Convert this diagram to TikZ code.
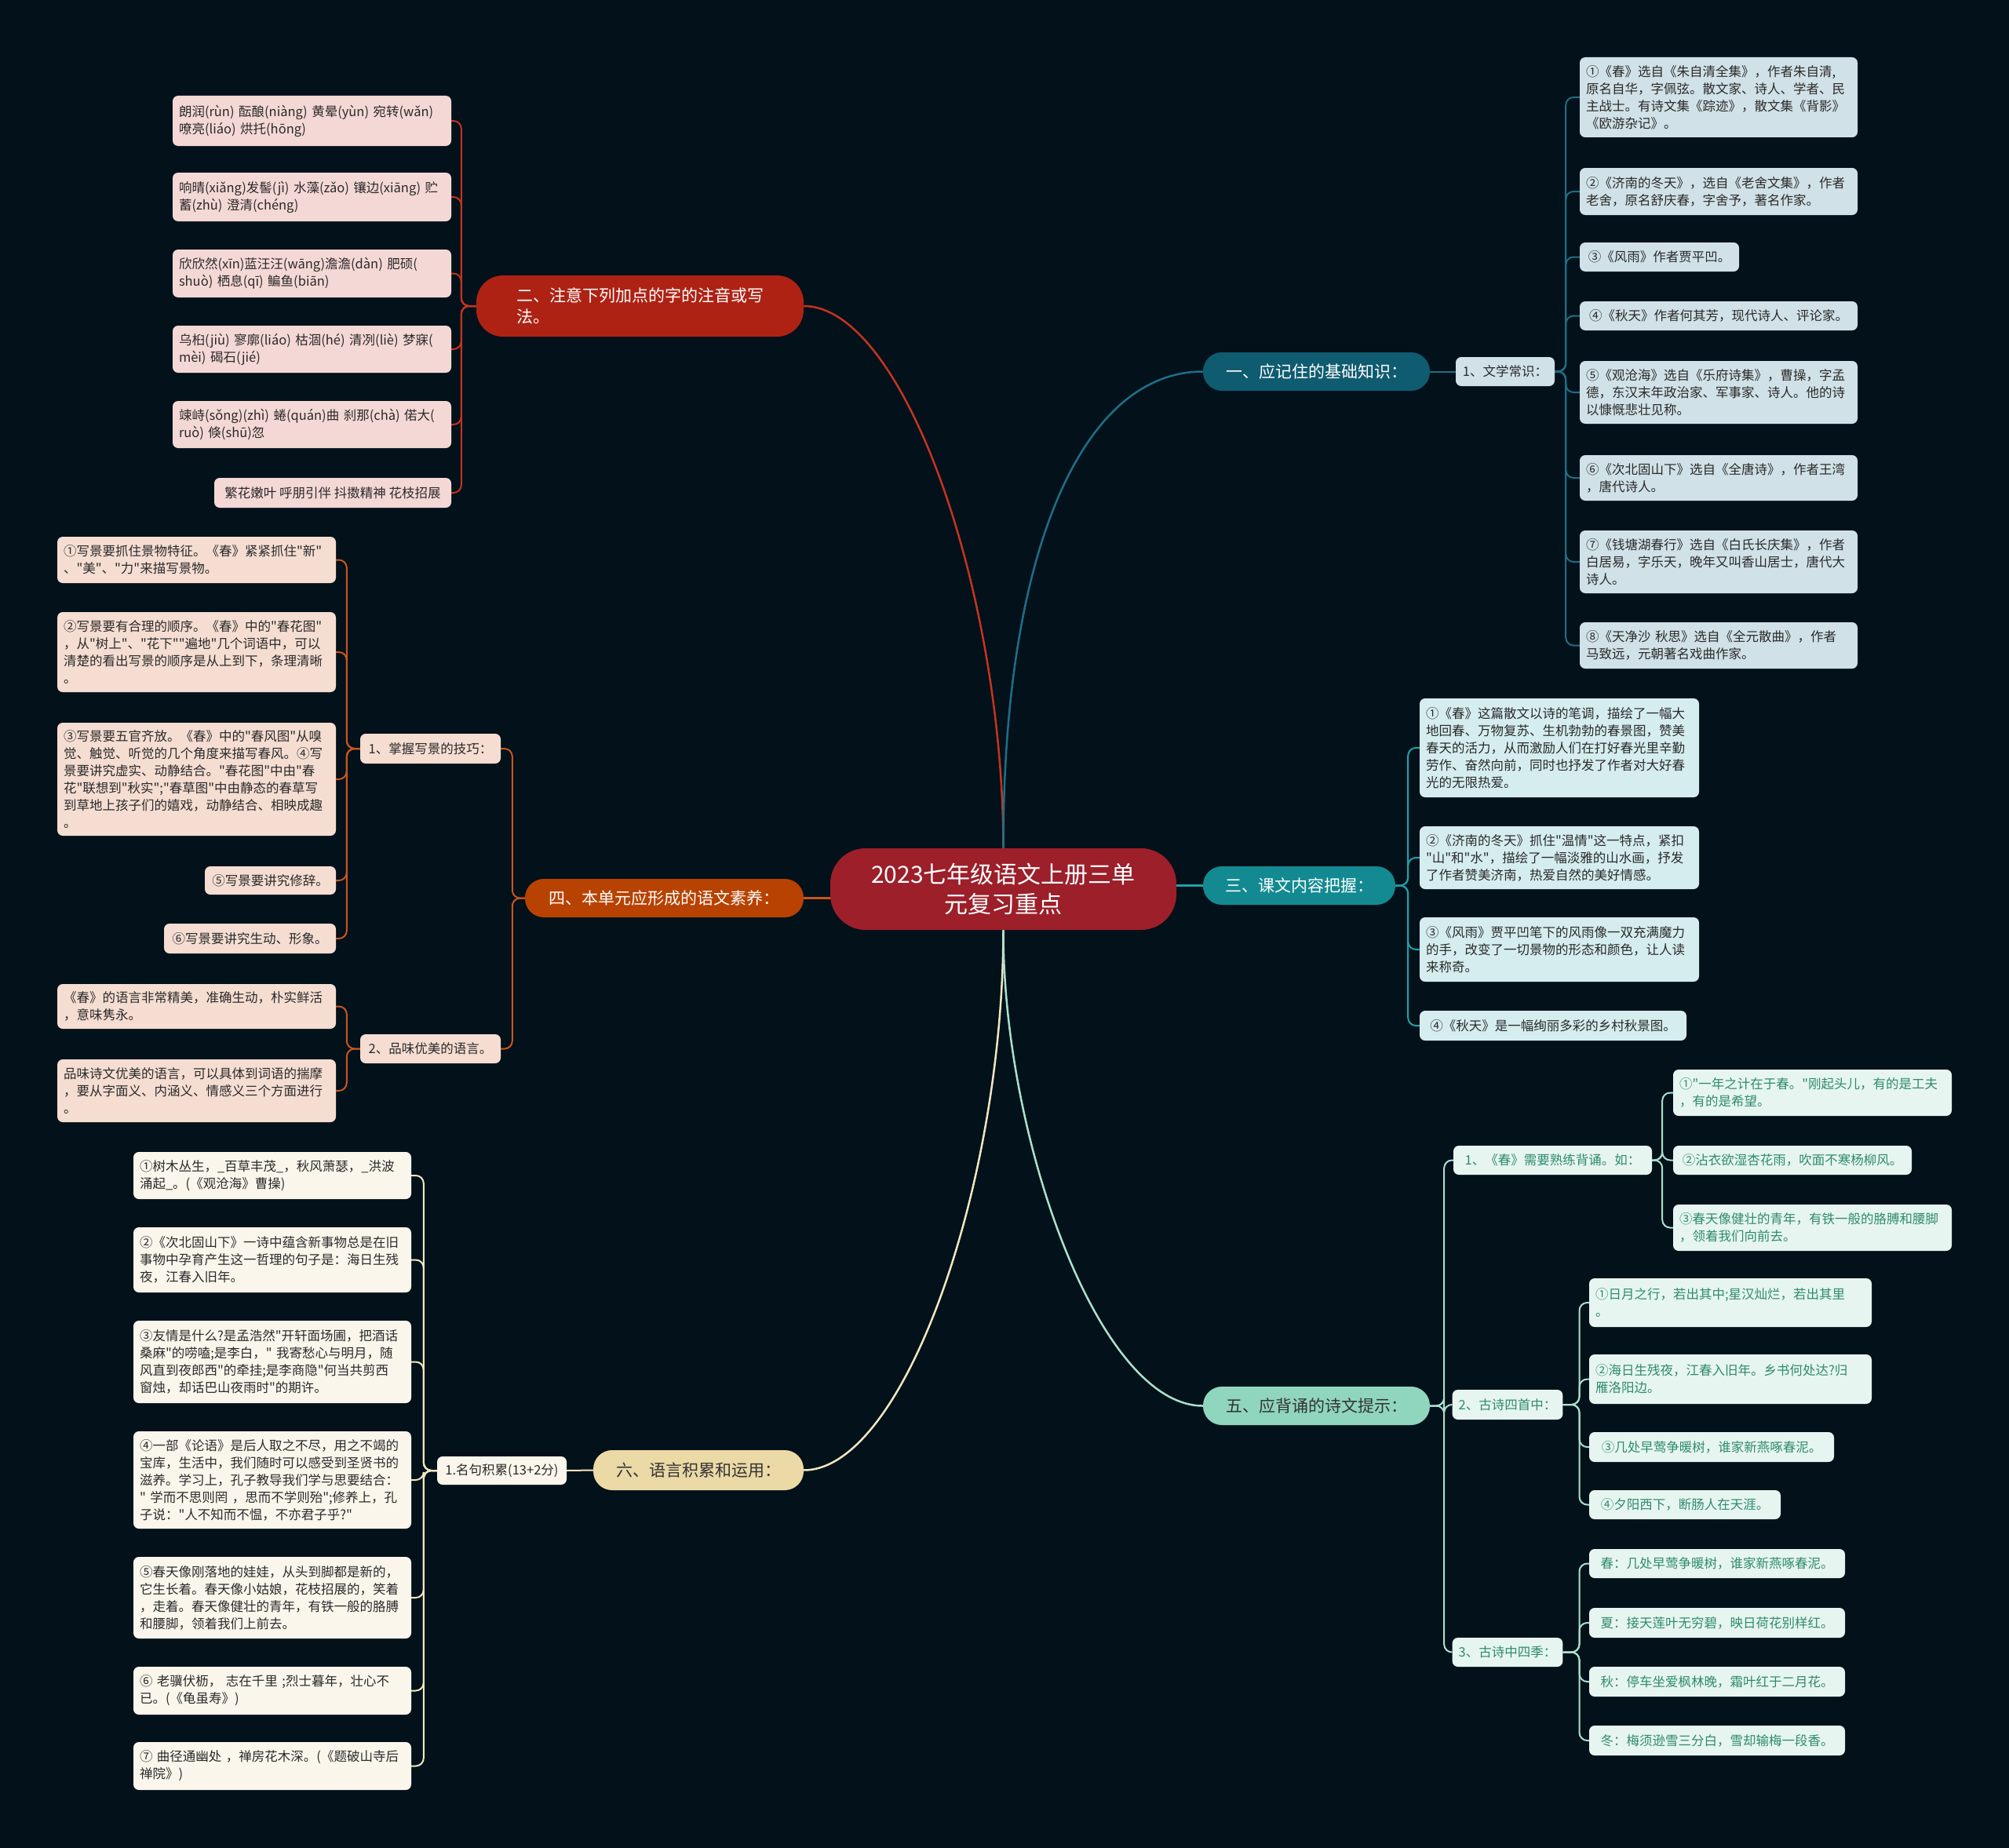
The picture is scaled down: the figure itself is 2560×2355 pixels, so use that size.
\documentclass[tikz,border=0pt]{standalone}
\usepackage{fontspec}
\setmainfont{Noto Sans CJK SC}[Ligatures=TeXOff]
\usetikzlibrary{calc}
\pgfdeclarelayer{back}
\pgfdeclarelayer{lines}
\pgfsetlayers{back,lines,main}
\definecolor{bgc}{HTML}{03111A}
\definecolor{centerc}{HTML}{9C1F2A}
\definecolor{redB}{HTML}{AE2214}
\definecolor{lineR}{HTML}{C4341F}
\definecolor{orangeB}{HTML}{B84201}
\definecolor{lineO}{HTML}{C8561E}
\definecolor{beigeB}{HTML}{EBD9A6}
\definecolor{lineC}{HTML}{F1E7BF}
\definecolor{tealD}{HTML}{0F5B70}
\definecolor{lineTD}{HTML}{1D6F87}
\definecolor{tealM}{HTML}{138A91}
\definecolor{lineTM}{HTML}{1FA2A8}
\definecolor{mintB}{HTML}{90D5BE}
\definecolor{lineM}{HTML}{A9E1CE}
\definecolor{pinkA}{HTML}{F4D8D5}
\definecolor{peachA}{HTML}{F5DDD2}
\definecolor{creamA}{HTML}{FBF6EC}
\definecolor{blueA}{HTML}{D0E1E7}
\definecolor{teaA}{HTML}{D5EDEF}
\definecolor{mintA}{HTML}{E7F5F0}
\definecolor{greenT}{HTML}{2E8B6E}
\definecolor{leaftext}{HTML}{2A2A2A}
\newcommand\bx[7]{%
  \pgfmathsetmacro\bxw{#4-#2}\pgfmathsetmacro\bxh{#5-#3}%
  \pgfmathsetmacro\bxtw{#4-#2-16}%
  \pgfmathsetmacro\bxcx{(#2+#4)/2}\pgfmathsetmacro\bxcy{(#3+#5)/2}%
  \node[#6, minimum width=\bxw pt, minimum height=\bxh pt, text width=\bxtw pt] (#1) at (\bxcx,\bxcy) {#7};}
\newcommand\bb[7]{%
  \pgfmathsetmacro\bxw{#4-#2}\pgfmathsetmacro\bxh{#5-#3}%
  \pgfmathsetmacro\bxcx{(#2+#4)/2}\pgfmathsetmacro\bxcy{(#3+#5)/2}%
  \node[#6, minimum width=\bxw pt, minimum height=\bxh pt] (#1) at (\bxcx,\bxcy) {#7};}
\newcommand\fan[4]{%
  \coordinate (tmpk) at ($(#2)+(#3,0)$);%
  \foreach \tg in {#4} { \draw[#1] (#2) -- (tmpk) |- (\tg); }}
\begin{document}
\begin{tikzpicture}[x=1pt,y=-1pt,
  leaf/.style={rounded corners=7pt, inner xsep=8pt, inner ysep=2pt, align=left,
    font=\fontsize{16.5}{22}\selectfont, text=leaftext},
  pk/.style={leaf, fill=pinkA},
  pe/.style={leaf, fill=peachA},
  cr/.style={leaf, fill=creamA},
  bl/.style={leaf, fill=blueA},
  tq/.style={leaf, fill=teaA},
  mt/.style={leaf, fill=mintA, text=greenT},
  branch/.style={rounded corners=24pt, inner sep=0pt, align=left, text=white,
    font=\fontsize{21}{27}\selectfont},
  centerst/.style={rounded corners=45pt, inner sep=0pt, align=center, fill=centerc,
    text=white, font=\fontsize{30}{38}\selectfont},
  main/.style={line width=2.5pt},
  sub/.style={line width=2pt, rounded corners=10pt}]
\begin{pgfonlayer}{back}
\fill[bgc] (0,0) rectangle (2560,2355);
\end{pgfonlayer}
\useasboundingbox (0,0) rectangle (2560,2355);

% center and branches
\bb{c}{1058}{1081}{1499}{1185}{centerst}{2023七年级语文上册三单\\元复习重点}
\bb{b1}{1533}{449}{1822}{498}{branch, fill=tealD}{一、应记住的基础知识：}
\bb{b2}{607}{351}{1024}{429}{branch, fill=redB, rounded corners=34pt}{二、注意下列加点的字的注音或写\\法。}
\bb{b3}{1533}{1104}{1778}{1153}{branch, fill=tealM}{三、课文内容把握：}
\bb{b4}{669}{1120}{1024}{1169}{branch, fill=orangeB}{四、本单元应形成的语文素养：}
\bb{b5}{1533}{1767}{1822}{1816}{branch, fill=mintB, text={black!80}}{五、应背诵的诗文提示：}
\bb{b6}{756}{1848}{1024}{1899}{branch, fill=beigeB, text={black!80}}{六、语言积累和运用：}

% branch two leaves
\bx{l21}{220}{122}{575}{186}{pk}{朗润(rùn) 酝酿(niàng) 黄晕(yùn) 宛转(wǎn)\\嘹亮(liáo) 烘托(hōng)}
\bx{l22}{220}{220}{575}{282}{pk}{响晴(xiǎng)发髻(jì) 水藻(zǎo) 镶边(xiāng) 贮\\蓄(zhù) 澄清(chéng)}
\bx{l23}{220}{318}{575}{379}{pk}{欣欣然(xīn)蓝汪汪(wāng)澹澹(dàn) 肥硕(\\shuò) 栖息(qī) 鳊鱼(biān)}
\bx{l24}{220}{415}{575}{475}{pk}{乌桕(jiù) 寥廓(liáo) 枯涸(hé) 清冽(liè) 梦寐(\\mèi) 碣石(jié)}
\bx{l25}{220}{511}{575}{571}{pk}{竦峙(sǒng)(zhì) 蜷(quán)曲 刹那(chà) 偌大(\\ruò) 倏(shū)忽}
\bb{l26}{273}{609}{575}{647}{pk}{繁花嫩叶 呼朋引伴 抖擞精神 花枝招展}

% branch four
\bb{s41}{459}{935}{638}{973}{pe}{1、掌握写景的技巧：}
\bb{s42}{459}{1318}{638}{1355}{pe}{2、品味优美的语言。}
\bx{l41}{73}{684}{428}{743}{pe}{①写景要抓住景物特征。《春》紧紧抓住"新"\\、"美"、"力"来描写景物。}
\bx{l42}{73}{780}{428}{882}{pe}{②写景要有合理的顺序。《春》中的"春花图"\\，从"树上"、"花下""遍地"几个词语中，可以\\清楚的看出写景的顺序是从上到下，条理清晰\\。}
\bx{l43}{73}{921}{428}{1065}{pe}{③写景要五官齐放。《春》中的"春风图"从嗅\\觉、触觉、听觉的几个角度来描写春风。④写\\景要讲究虚实、动静结合。"春花图"中由"春\\花"联想到"秋实";"春草图"中由静态的春草写\\到草地上孩子们的嬉戏，动静结合、相映成趣\\。}
\bb{l44}{261}{1104}{428}{1140}{pe}{⑤写景要讲究修辞。}
\bb{l45}{209}{1177}{428}{1215}{pe}{⑥写景要讲究生动、形象。}
\bx{l46}{73}{1254}{428}{1311}{pe}{《春》的语言非常精美，准确生动，朴实鲜活\\，意味隽永。}
\bx{l47}{73}{1350}{428}{1430}{pe}{品味诗文优美的语言，可以具体到词语的揣摩\\，要从字面义、内涵义、情感义三个方面进行\\。}

% branch six
\bb{s61}{557}{1856}{722}{1892}{cr}{1.名句积累(13+2分)}
\bx{l61}{170}{1468}{524}{1528}{cr}{①树木丛生，\_百草丰茂\_，秋风萧瑟，\_洪波\\涌起\_。(《观沧海》曹操)}
\bx{l62}{170}{1564}{524}{1647}{cr}{②《次北固山下》一诗中蕴含新事物总是在旧\\事物中孕育产生这一哲理的句子是：海日生残\\夜，江春入旧年。}
\bx{l63}{170}{1683}{524}{1788}{cr}{③友情是什么?是孟浩然"开轩面场圃，把酒话\\桑麻"的唠嗑;是李白，"~我寄愁心与明月，随\\风直到夜郎西"的牵挂;是李商隐"何当共剪西\\窗烛，却话巴山夜雨时"的期许。}
\bx{l64}{170}{1824}{524}{1948}{cr}{④一部《论语》是后人取之不尽，用之不竭的\\宝库，生活中，我们随时可以感受到圣贤书的\\滋养。学习上，孔子教导我们学与思要结合：\\"~学而不思则罔~，思而不学则殆";修养上，孔\\子说："人不知而不愠，不亦君子乎?"}
\bx{l65}{170}{1984}{524}{2088}{cr}{⑤春天像刚落地的娃娃，从头到脚都是新的，\\它生长着。春天像小姑娘，花枝招展的，笑着\\，走着。春天像健壮的青年，有铁一般的胳膊\\和腰脚，领着我们上前去。}
\bx{l66}{170}{2124}{524}{2185}{cr}{⑥~老骥伏枥，~志在千里~;烈士暮年，壮心不\\已。(《龟虽寿》)}
\bx{l67}{170}{2220}{524}{2281}{cr}{⑦~曲径通幽处~，禅房花木深。(《题破山寺后\\禅院》)}

% branch one
\bb{s11}{1855}{455}{1981}{492}{bl}{1、文学常识：}
\bx{l11}{2013}{73}{2367}{175}{bl}{①《春》选自《朱自清全集》，作者朱自清,\\原名自华，字佩弦。散文家、诗人、学者、民\\主战士。有诗文集《踪迹》，散文集《背影》\\《欧游杂记》。}
\bx{l12}{2013}{214}{2367}{274}{bl}{②《济南的冬天》，选自《老舍文集》，作者\\老舍，原名舒庆春，字舍予，著名作家。}
\bb{l13}{2013}{309}{2216}{346}{bl}{③《风雨》作者贾平凹。}
\bb{l14}{2013}{384}{2367}{421}{bl}{④《秋天》作者何其芳，现代诗人、评论家。}
\bx{l15}{2013}{460}{2367}{540}{bl}{⑤《观沧海》选自《乐府诗集》，曹操，字孟\\德，东汉末年政治家、军事家、诗人。他的诗\\以慷慨悲壮见称。}
\bx{l16}{2013}{580}{2367}{638}{bl}{⑥《次北固山下》选自《全唐诗》，作者王湾\\，唐代诗人。}
\bx{l17}{2013}{676}{2367}{756}{bl}{⑦《钱塘湖春行》选自《白氏长庆集》，作者\\白居易，字乐天，晚年又叫香山居士，唐代大\\诗人。}
\bx{l18}{2013}{793}{2367}{852}{bl}{⑧《天净沙~秋思》选自《全元散曲》，作者\\马致远，元朝著名戏曲作家。}

% branch three
\bx{l31}{1809}{890}{2165}{1016}{tq}{①《春》这篇散文以诗的笔调，描绘了一幅大\\地回春、万物复苏、生机勃勃的春景图，赞美\\春天的活力，从而激励人们在打好春光里辛勤\\劳作、奋然向前，同时也抒发了作者对大好春\\光的无限热爱。}
\bx{l32}{1809}{1053}{2165}{1133}{tq}{②《济南的冬天》抓住"温情"这一特点，紧扣\\"山"和"水"，描绘了一幅淡雅的山水画，抒发\\了作者赞美济南，热爱自然的美好情感。}
\bx{l33}{1809}{1169}{2165}{1251}{tq}{③《风雨》贾平凹笔下的风雨像一双充满魔力\\的手，改变了一切景物的形态和颜色，让人读\\来称奇。}
\bb{l34}{1809}{1288}{2149}{1326}{tq}{④《秋天》是一幅绚丽多彩的乡村秋景图。}

% branch five
\bb{s51}{1852}{1460}{2105}{1497}{mt}{1、《春》需要熟练背诵。如：}
\bb{s52}{1852}{1771}{1990}{1809}{mt}{2、古诗四首中：}
\bb{s53}{1852}{2087}{1990}{2124}{mt}{3、古诗中四季：}
\bx{l51}{2132}{1363}{2487}{1422}{mt}{①"一年之计在于春。"刚起头儿，有的是工夫\\，有的是希望。}
\bb{l52}{2132}{1460}{2436}{1497}{mt}{②沾衣欲湿杏花雨，吹面不寒杨柳风。}
\bx{l53}{2132}{1535}{2487}{1594}{mt}{③春天像健壮的青年，有铁一般的胳膊和腰脚\\，领着我们向前去。}
\bx{l54}{2025}{1629}{2385}{1691}{mt}{①日月之行，若出其中;星汉灿烂，若出其里\\。}
\bx{l55}{2025}{1726}{2385}{1789}{mt}{②海日生残夜，江春入旧年。乡书何处达?归\\雁洛阳边。}
\bb{l56}{2025}{1825}{2337}{1863}{mt}{③几处早莺争暖树，谁家新燕啄春泥。}
\bb{l57}{2025}{1899}{2269}{1936}{mt}{④夕阳西下，断肠人在天涯。}
\bb{l58}{2025}{1974}{2351}{2011}{mt}{春：几处早莺争暖树，谁家新燕啄春泥。}
\bb{l59}{2025}{2049}{2351}{2087}{mt}{夏：接天莲叶无穷碧，映日荷花别样红。}
\bb{l5a}{2025}{2124}{2351}{2162}{mt}{秋：停车坐爱枫林晚，霜叶红于二月花。}
\bb{l5b}{2025}{2199}{2351}{2237}{mt}{冬：梅须逊雪三分白，雪却输梅一段香。}

\begin{pgfonlayer}{lines}
% main connectors
\draw[main, lineR] (b2.east) .. controls (1150,390) and (1278,750) .. (c.north);
\draw[main, lineTD] (b1.west) .. controls (1380,473.5) and (1278,700) .. (c.north);
\draw[main, lineC] (b6.east) .. controls (1150,1873.5) and (1278,1515) .. (c.south);
\draw[main, lineM] (b5.west) .. controls (1400,1791.5) and (1278,1450) .. (c.south);
\draw[main, lineO] (b4.east) -- (b4.east -| c.center);
\draw[main, lineTM] (b3.west) -- (b3.west -| c.center);
% sub connectors
\fan{sub, lineR}{b2.west}{-19}{l21.east,l22.east,l23.east,l24.east,l25.east,l26.east}
\fan{sub, lineO}{b4.west}{-16}{s41.east,s42.east}
\fan{sub, lineO}{s41.west}{-17}{l41.east,l42.east,l43.east,l44.east,l45.east}
\fan{sub, lineO}{s42.west}{-17}{l46.east,l47.east}
\draw[sub, lineC] (b6.west) -- (s61.east);
\fan{sub, lineC}{s61.west}{-17}{l61.east,l62.east,l63.east,l64.east,l65.east,l66.east,l67.east}
\draw[sub, lineTD] (b1.east) -- (s11.west);
\fan{sub, lineTD}{s11.east}{14}{l11.west,l12.west,l13.west,l14.west,l15.west,l16.west,l17.west,l18.west}
\fan{sub, lineTM}{b3.east}{16}{l31.west,l32.west,l33.west,l34.west}
\fan{sub, lineM}{b5.east}{18}{s51.west,s52.west,s53.west}
\fan{sub, lineM}{s51.east}{13}{l51.west,l52.west,l53.west}
\fan{sub, lineM}{s52.east}{21}{l54.west,l55.west,l56.west,l57.west}
\fan{sub, lineM}{s53.east}{21}{l58.west,l59.west,l5a.west,l5b.west}
\end{pgfonlayer}
\end{tikzpicture}
\end{document}
